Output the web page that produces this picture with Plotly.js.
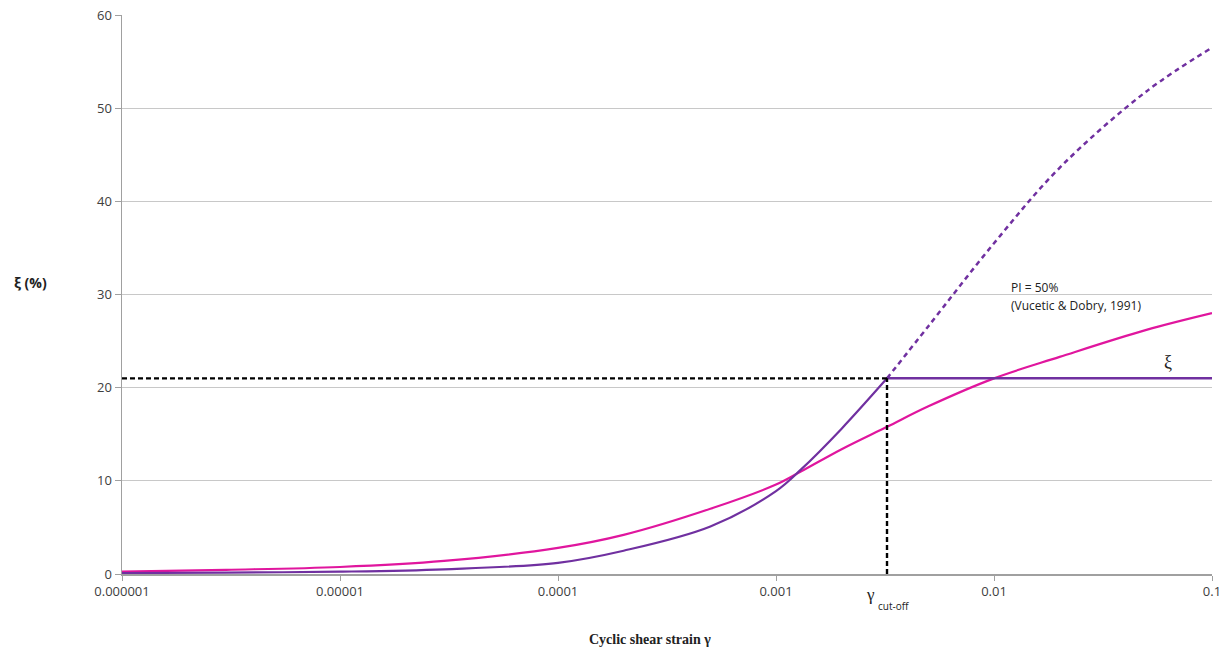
<!DOCTYPE html>
<html>
<head>
<meta charset="utf-8">
<script src="https://cdn.plot.ly/plotly-3.0.1.min.js"></script>
<style>html,body{margin:0;padding:0;background:#fff;}#chart{width:1228px;height:650px;}</style>
</head>
<body>
<div id="chart"></div>
<script>
// Proposed model (solid up to the cut-off strain)
const strainSolid = [1e-6, 3e-6, 1e-5, 3e-5, 1e-4, 2e-4, 5e-4, 1e-3, 1.3e-3, 2e-3, 3.23e-3];
const xiSolid     = [0.1, 0.15, 0.25, 0.5, 1.2, 2.5, 5.1, 8.9, 11.2, 15.6, 21];
// Same model continued past the cut-off (dashed)
const strainDash  = [3.23e-3, 5e-3, 0.01, 0.02, 0.05, 0.1];
const xiDash      = [21, 26.6, 35.5, 43.6, 51.8, 56.5];
// Vucetic & Dobry (1991), PI = 50%
const strainVD    = [1e-6, 3e-6, 1e-5, 3e-5, 1e-4, 2e-4, 5e-4, 1e-3, 1.3e-3, 2e-3, 3.23e-3, 5e-3, 0.01, 0.02, 0.05, 0.1];
const xiVD        = [0.25, 0.45, 0.75, 1.4, 2.8, 4.2, 7.0, 9.6, 11.0, 13.4, 15.8, 18.0, 21.0, 23.3, 26.2, 28.0];
// Cut-off
const gammaCut = 3.23e-3;
const xiCut = 21;
const xMin = 1e-6, xMax = 0.1;
// Axis ticks
const xTickVals = [1e-6, 1e-5, 1e-4, 1e-3, 1e-2, 1e-1];
const xTickText = ["0.000001", "0.00001", "0.0001", "0.001", "0.01", "0.1"];
const yTickVals = [0, 10, 20, 30, 40, 50, 60];

const purple = '#7030A0';
const pink = '#E0169E';

const traces = [
  {x: strainVD, y: xiVD, mode: 'lines', line: {color: pink, width: 2.2, shape: 'spline', smoothing: 1}},
  {x: strainSolid, y: xiSolid, mode: 'lines', line: {color: purple, width: 2.2, shape: 'spline', smoothing: 1}},
  {x: strainDash, y: xiDash, mode: 'lines', line: {color: purple, width: 2.5, dash: '5px,4px', shape: 'spline'}},
  {x: [gammaCut, xMax], y: [xiCut, xiCut], mode: 'lines', line: {color: purple, width: 2.5}},
  {x: [xMin, gammaCut], y: [xiCut, xiCut], mode: 'lines', line: {color: '#000', width: 2.4, dash: '5px,3px'}},
  {x: [gammaCut, gammaCut], y: [0, xiCut], mode: 'lines', line: {color: '#000', width: 2.4, dash: '5px,3px'}}
];

const tickFont = {family: 'Open Sans, Liberation Sans, sans-serif', size: 13, color: '#404040'};
const noteFont = {family: 'Open Sans, sans-serif', size: 12, color: '#222'};

const layout = {
  width: 1228, height: 650,
  margin: {l: 122, r: 16, t: 15, b: 76},
  paper_bgcolor: '#fff', plot_bgcolor: '#fff',
  showlegend: false,
  xaxis: {
    type: 'log', range: [Math.log10(xMin), Math.log10(xMax)],
    tickvals: xTickVals, ticktext: xTickText,
    ticks: 'outside', ticklen: 5, tickcolor: '#a0a0a0',
    showgrid: false, zeroline: false,
    showline: true, linecolor: '#a0a0a0', linewidth: 1.5,
    tickfont: tickFont
  },
  yaxis: {
    range: [0, 60], tickvals: yTickVals,
    ticks: 'outside', ticklen: 6, tickcolor: '#a0a0a0',
    showgrid: true, gridcolor: '#c8c8c8', gridwidth: 1.2,
    zeroline: false,
    showline: true, linecolor: '#a0a0a0', linewidth: 1.5,
    tickfont: tickFont
  },
  annotations: [
    {xref: 'paper', yref: 'paper', x: -0.101, y: 0.522, xanchor: 'left', yanchor: 'middle', showarrow: false,
     text: '<b>ξ (%)</b>', font: {family: 'Open Sans, sans-serif', size: 14, color: '#222'}},
    {xref: 'paper', yref: 'paper', x: 0.484, y: -0.118, xanchor: 'center', yanchor: 'middle', showarrow: false,
     text: '<b>Cyclic shear strain γ</b>', font: {family: 'Liberation Serif, serif', size: 14, color: '#222'}},
    {xref: 'paper', yref: 'paper', x: 0.814, y: 0.513, xanchor: 'left', yanchor: 'middle', showarrow: false,
     text: 'PI = 50%', font: noteFont},
    {xref: 'paper', yref: 'paper', x: 0.814, y: 0.481, xanchor: 'left', yanchor: 'middle', showarrow: false,
     text: '(Vucetic &amp; Dobry, 1991)', font: noteFont},
    {xref: 'paper', yref: 'paper', x: 0.960, y: 0.380, xanchor: 'center', yanchor: 'middle', showarrow: false,
     text: 'ξ', font: {family: 'Liberation Serif, serif', size: 18, color: '#222'}},
    {xref: 'paper', yref: 'paper', x: 0.681, y: -0.036, xanchor: 'left', yanchor: 'middle', showarrow: false,
     text: 'γ', font: {family: 'Liberation Serif, serif', size: 17, color: '#222'}},
    {xref: 'paper', yref: 'paper', x: 0.692, y: -0.057, xanchor: 'left', yanchor: 'middle', showarrow: false,
     text: 'cut-off', font: {family: 'Open Sans, sans-serif', size: 10, color: '#222'}}
  ]
};

Plotly.newPlot('chart', traces, layout, {displayModeBar: false, staticPlot: true});
</script>
</body>
</html>
